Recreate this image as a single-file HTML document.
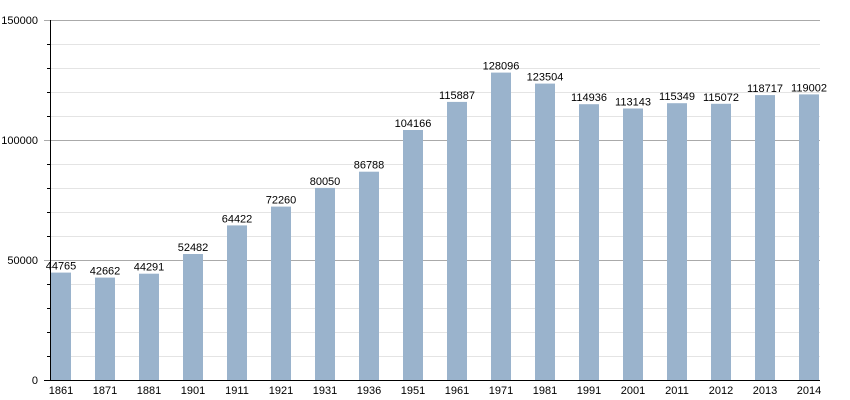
<!DOCTYPE html>
<html><head><style>body{margin:0;background:#fff}svg{display:block;font-family:"Liberation Sans",sans-serif}</style></head>
<body>
<svg width="850" height="400" xmlns="http://www.w3.org/2000/svg">
<g stroke="#e4e4e4" stroke-width="1">
<line x1="50" x2="820" y1="356.5" y2="356.5"/><line x1="50" x2="820" y1="332.5" y2="332.5"/><line x1="50" x2="820" y1="308.5" y2="308.5"/><line x1="50" x2="820" y1="284.5" y2="284.5"/>
<line x1="50" x2="820" y1="236.5" y2="236.5"/><line x1="50" x2="820" y1="212.5" y2="212.5"/><line x1="50" x2="820" y1="188.5" y2="188.5"/><line x1="50" x2="820" y1="164.5" y2="164.5"/>
<line x1="50" x2="820" y1="116.5" y2="116.5"/><line x1="50" x2="820" y1="92.5" y2="92.5"/><line x1="50" x2="820" y1="68.5" y2="68.5"/><line x1="50" x2="820" y1="44.5" y2="44.5"/>
</g>
<g stroke="#aaa" stroke-width="1">
<line x1="44" x2="820" y1="20.5" y2="20.5"/><line x1="44" x2="820" y1="140.5" y2="140.5"/><line x1="44" x2="820" y1="260.5" y2="260.5"/>
</g>
<g stroke="#000" stroke-width="1">
<line x1="47" x2="50" y1="356.5" y2="356.5"/><line x1="47" x2="50" y1="332.5" y2="332.5"/><line x1="47" x2="50" y1="308.5" y2="308.5"/><line x1="47" x2="50" y1="284.5" y2="284.5"/>
<line x1="47" x2="50" y1="236.5" y2="236.5"/><line x1="47" x2="50" y1="212.5" y2="212.5"/><line x1="47" x2="50" y1="188.5" y2="188.5"/><line x1="47" x2="50" y1="164.5" y2="164.5"/>
<line x1="47" x2="50" y1="116.5" y2="116.5"/><line x1="47" x2="50" y1="92.5" y2="92.5"/><line x1="47" x2="50" y1="68.5" y2="68.5"/><line x1="47" x2="50" y1="44.5" y2="44.5"/>
</g>
<g fill="#9ab3cc">
<rect x="51" y="272.6" width="20" height="107.4"/>
<rect x="95" y="277.6" width="20" height="102.4"/>
<rect x="139" y="273.7" width="20" height="106.3"/>
<rect x="183" y="254.0" width="20" height="126.0"/>
<rect x="227" y="225.4" width="20" height="154.6"/>
<rect x="271" y="206.6" width="20" height="173.4"/>
<rect x="315" y="187.9" width="20" height="192.1"/>
<rect x="359" y="171.7" width="20" height="208.3"/>
<rect x="403" y="130.0" width="20" height="250.0"/>
<rect x="447" y="101.9" width="20" height="278.1"/>
<rect x="491" y="72.6" width="20" height="307.4"/>
<rect x="535" y="83.6" width="20" height="296.4"/>
<rect x="579" y="104.2" width="20" height="275.8"/>
<rect x="623" y="108.5" width="20" height="271.5"/>
<rect x="667" y="103.2" width="20" height="276.8"/>
<rect x="711" y="103.8" width="20" height="276.2"/>
<rect x="755" y="95.1" width="20" height="284.9"/>
<rect x="799" y="94.4" width="20" height="285.6"/>
</g>
<g font-size="11" fill="#000" text-anchor="middle">
<text x="61" y="269.6">44765</text>
<text x="105" y="274.6">42662</text>
<text x="149" y="270.7">44291</text>
<text x="193" y="251">52482</text>
<text x="237" y="222.4">64422</text>
<text x="281" y="203.6">72260</text>
<text x="325" y="184.9">80050</text>
<text x="369" y="168.7">86788</text>
<text x="413" y="127">104166</text>
<text x="457" y="98.9">115887</text>
<text x="501" y="69.6">128096</text>
<text x="545" y="80.6">123504</text>
<text x="589" y="101.2">114936</text>
<text x="633" y="105.5">113143</text>
<text x="677" y="100.2">115349</text>
<text x="721" y="100.8">115072</text>
<text x="765" y="92.1">118717</text>
<text x="809" y="91.4">119002</text>
<text x="61" y="394">1861</text>
<text x="105" y="394">1871</text>
<text x="149" y="394">1881</text>
<text x="193" y="394">1901</text>
<text x="237" y="394">1911</text>
<text x="281" y="394">1921</text>
<text x="325" y="394">1931</text>
<text x="369" y="394">1936</text>
<text x="413" y="394">1951</text>
<text x="457" y="394">1961</text>
<text x="501" y="394">1971</text>
<text x="545" y="394">1981</text>
<text x="589" y="394">1991</text>
<text x="633" y="394">2001</text>
<text x="677" y="394">2011</text>
<text x="721" y="394">2012</text>
<text x="765" y="394">2013</text>
<text x="809" y="394">2014</text>
</g>
<line x1="50.5" x2="50.5" y1="20" y2="381" stroke="#000"/>
<line x1="44" x2="820" y1="380.5" y2="380.5" stroke="#000"/>
<g font-size="11" text-anchor="end">
<text x="38" y="384">0</text><text x="38" y="264">50000</text><text x="38" y="144">100000</text><text x="38" y="24">150000</text>
</g>
</svg>
</body></html>
